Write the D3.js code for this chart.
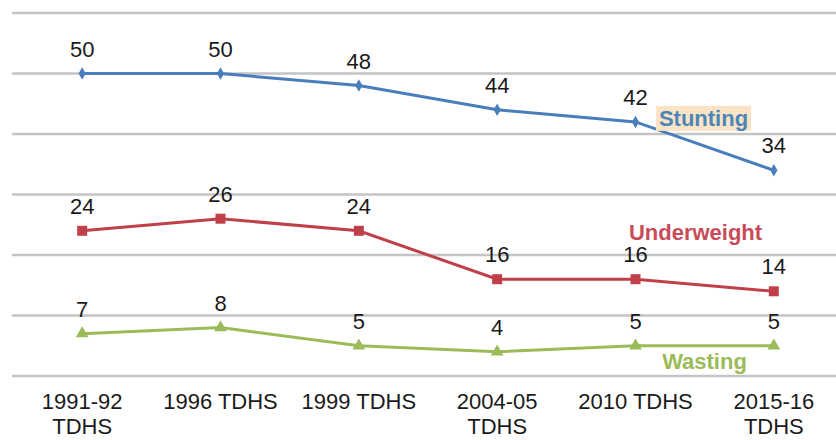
<!DOCTYPE html>
<html>
<head>
<meta charset="utf-8">
<script src="https://cdn.jsdelivr.net/npm/d3@7"></script>
<style>
  html, body { margin: 0; padding: 0; background: #fff; }
  svg { display: block; font-family: "Liberation Sans", Arial, sans-serif; }
</style>
</head>
<body>
<svg id="chart" width="836" height="440"></svg>
<script>
// Survey rounds (x categories)
const categories = [
  ["1991-92", "TDHS"],
  ["1996 TDHS"],
  ["1999 TDHS"],
  ["2004-05", "TDHS"],
  ["2010 TDHS"],
  ["2015-16", "TDHS"]
];
const stunting = [50, 50, 48, 44, 42, 34];
const underweight = [24, 26, 24, 16, 16, 14];
const wasting = [7, 8, 5, 4, 5, 5];
const yTicks = [0, 10, 20, 30, 40, 50, 60];

const svg = d3.select("#chart");
const keys = categories.map(c => c.join(" "));

const x = d3.scalePoint().domain(keys).range([13, 843]).padding(0.5);
const y = d3.scaleLinear().domain([0, 60]).range([376, 13]);

// Horizontal gridlines
svg.append("g").selectAll("line").data(yTicks).join("line")
  .attr("x1", 12).attr("x2", 836)
  .attr("y1", d => y(d)).attr("y2", d => y(d))
  .attr("stroke", "#c4c4c4").attr("stroke-width", 2.5);

// Category labels
const xl = svg.append("g").selectAll("text").data(categories).join("text")
  .attr("text-anchor", "middle")
  .attr("font-size", 22).attr("fill", "#1a1a1a");
xl.each(function(d, i) {
  const t = d3.select(this);
  d.forEach((line, j) => {
    t.append("tspan").attr("x", x(keys[i])).attr("y", 409 + j * 25).text(line);
  });
});

const series = [
  { name: "Stunting", values: stunting, color: "#4a7ebb", marker: d3.symbolDiamond, size: 45 },
  { name: "Underweight", values: underweight, color: "#c0404a", marker: d3.symbolSquare, size: 100 },
  { name: "Wasting", values: wasting, color: "#9bbb59", marker: d3.symbolTriangle, size: 70 }
];

const line = d3.line().x((d, i) => x(keys[i])).y(d => y(d));

series.forEach(s => {
  const g = svg.append("g");
  g.append("path").datum(s.values)
    .attr("d", line).attr("fill", "none")
    .attr("stroke", s.color).attr("stroke-width", 3);
  g.selectAll("path.m").data(s.values).join("path").attr("class", "m")
    .attr("d", d3.symbol().type(s.marker).size(s.size))
    .attr("transform", (d, i) => `translate(${x(keys[i])},${y(d)})`)
    .attr("fill", s.color);
  g.selectAll("text").data(s.values).join("text")
    .attr("x", (d, i) => x(keys[i]))
    .attr("y", d => y(d) - 17)
    .attr("text-anchor", "middle")
    .attr("font-size", 22).attr("fill", "#1a1a1a")
    .text(d => d);
});

// Series name labels
const names = [
  { text: "Stunting", color: "#4a86b8", xi: 4, v: 42, dx: 68, dy: 4, bg: "#fbe3c6" },
  { text: "Underweight", color: "#c84b5a", xi: 4, v: 16, dx: 60, dy: -39, bg: null },
  { text: "Wasting", color: "#9bbb59", xi: 4, v: 5, dx: 69, dy: 23, bg: null }
];
names.forEach(n => {
  const t = svg.append("text")
    .attr("x", x(keys[n.xi]) + n.dx)
    .attr("y", y(n.v) + n.dy)
    .attr("text-anchor", "middle")
    .attr("font-size", 22).attr("font-weight", "bold")
    .attr("fill", n.color).text(n.text);
  if (n.bg) {
    const b = t.node().getBBox();
    svg.insert("rect", () => t.node())
      .attr("x", b.x - 3).attr("y", b.y).attr("width", b.width + 6).attr("height", b.height)
      .attr("fill", n.bg);
  }
});
</script>
</body>
</html>
